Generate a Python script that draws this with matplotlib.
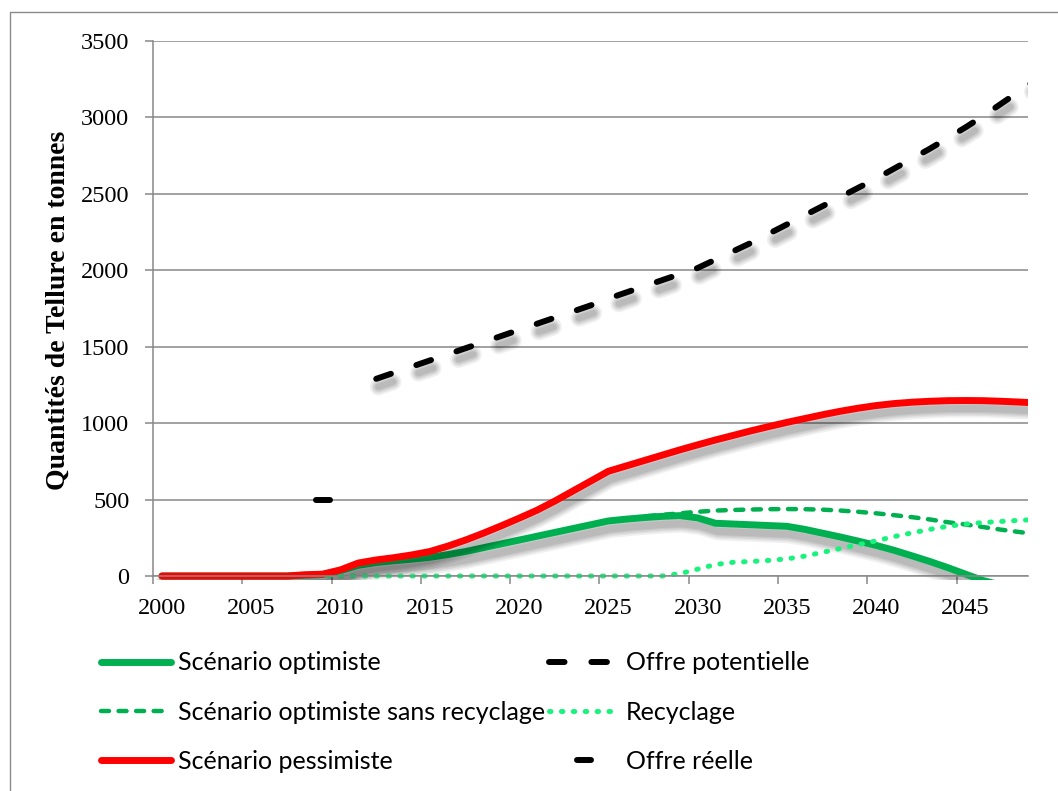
import matplotlib
matplotlib.use("Agg")
import matplotlib.pyplot as plt
import matplotlib.patheffects as pe
from matplotlib.lines import Line2D
from matplotlib.markers import MarkerStyle
from matplotlib.transforms import Bbox, TransformedBbox
from matplotlib.patches import Rectangle
import numpy as np

# ---- data (tonnes of tellurium per year) ----
years = list(range(2000, 2050))

optimiste = [0, 0, 0, 0, 0, 0, 0, 0,
             5, 10, 35, 70, 88, 100, 110, 122, 140, 160, 185, 210,
             235, 260, 285, 310, 335, 360, 372, 382, 390, 395,
             380, 345, 340, 335, 330, 325, 305, 280, 255, 228,
             200, 168, 132, 95, 55, 12, -30, -60, -90, -120]

optimiste_sans_recyclage = [0, 0, 0, 0, 0, 0, 0, 0,
                            5, 10, 35, 70, 88, 100, 110, 122, 140, 160, 185, 210,
                            235, 260, 285, 310, 335, 360, 372, 390, 400, 410,
                            420, 428, 432, 435, 437, 438, 437, 434, 428, 420,
                            410, 398, 385, 370, 352, 337, 320, 303, 288, 272]

pessimiste = [0, 0, 0, 0, 0, 0, 0, 0,
              8, 12, 40, 85, 105, 120, 138, 160, 195, 235, 280, 328,
              378, 430, 490, 555, 620, 685, 720, 755, 790, 825,
              858, 890, 920, 950, 978, 1005, 1030, 1055, 1078, 1098,
              1115, 1128, 1137, 1143, 1147, 1148, 1147, 1143, 1138, 1132]

offre_potentielle = [np.nan] * 12 + [
    1290, 1330, 1370, 1410, 1450, 1490, 1530, 1570, 1610, 1650,
    1690, 1730, 1770, 1815, 1855, 1895, 1935, 1975, 2015,
    2070, 2125, 2180, 2240, 2300, 2360, 2420, 2480, 2540, 2600,
    2665, 2730, 2795, 2865, 2935, 3010, 3090, 3170, 3250]

recyclage = [0] * 29 + [
    15, 45, 75, 90, 95, 102, 112, 130, 155, 180,
    205, 230, 258, 282, 305, 325, 340, 350, 357, 364, 370]

offre_reelle_years = [2009]
offre_reelle = [500]

tick_years = [2000, 2005, 2010, 2015, 2020, 2025, 2030, 2035, 2040, 2045]
y_ticks = [0, 500, 1000, 1500, 2000, 2500, 3000, 3500]

labels = ["Scénario optimiste", "Scénario optimiste sans recyclage",
          "Scénario pessimiste", "Offre potentielle", "Recyclage",
          "Offre réelle"]

# ---- styling ----
GREEN = "#00B050"
RED = "#FF0000"
SPRING = "#1AF27E"
GRID = "#888888"
SERIF = "Liberation Serif"

W, H = 1058, 791
fig = plt.figure(figsize=(W / 100, H / 100), dpi=100)
ax = fig.add_axes([153 / W, 1 - 576 / H, 875 / W, 535 / H])


def soft_shadow(lw):
    layers = [pe.SimpleLineShadow(offset=(1.5, -5.8), shadow_color="black",
                                  alpha=0.058, linewidth=lw + w)
              for w in (8.0, 5.5, 3.5, 1.5, 0.0)]
    return layers + [pe.Normal()]


clip = TransformedBbox(Bbox([[1999.5, -25], [2048.5, 3800]]), ax.transData)

lw_solid = 5.0
lw_dash = 3.2
lw_black = 4.3
lw_dot = 3.6

# series drawn in this order: optimiste, offre potentielle, sans recyclage,
# recyclage, pessimiste, offre réelle
l_opt, = ax.plot(years, optimiste, color=GREEN, lw=lw_solid,
                 solid_capstyle="round", solid_joinstyle="round", zorder=2.0)
l_opt.set_path_effects(soft_shadow(lw_solid))

l_pot, = ax.plot(years, offre_potentielle, color="black", lw=lw_black,
                 linestyle=(0, (2.6, 4.5)), dash_capstyle="round", zorder=2.1)
l_pot.set_path_effects(soft_shadow(lw_black))

l_sans, = ax.plot(years, optimiste_sans_recyclage, color=GREEN, lw=lw_dash,
                  linestyle=(0, (1.8, 2.15)), dash_capstyle="round", zorder=2.2)

l_rec, = ax.plot(years, recyclage, color=SPRING, lw=lw_dot,
                 linestyle=(0, (0.3, 2.08)), dash_capstyle="round", zorder=2.3)

l_pess, = ax.plot(years, pessimiste, color=RED, lw=lw_solid,
                  solid_capstyle="round", solid_joinstyle="round", zorder=2.4)
l_pess.set_path_effects(soft_shadow(lw_solid))

dash_marker = MarkerStyle("_", capstyle="round")
l_reel, = ax.plot(offre_reelle_years, offre_reelle, linestyle="none",
                  marker=dash_marker, markersize=9.4, markeredgewidth=4.3,
                  color="black", zorder=2.5)

for ln in (l_opt, l_sans, l_pess, l_pot, l_rec, l_reel):
    ln.set_clip_path(None)
    ln.set_clip_box(clip)
    ln.set_clip_on(True)

# ---- axes ----
ax.set_xlim(1999.5, 2048.5)
ax.set_ylim(0, 3500)
ax.set_axisbelow(True)

ax.set_xticks(np.arange(1999.5, 2048.0, 5.0))
ax.set_xticklabels([])
ax.set_xticks(tick_years, minor=True)
ax.set_xticklabels([str(y) for y in tick_years], minor=True)
ax.tick_params(axis="x", which="major", direction="out", length=5.5,
               width=1.1, color=GRID)
ax.tick_params(axis="x", which="minor", length=0, pad=16,
               labelsize=17.5, labelfontfamily=SERIF)

ax.set_yticks(y_ticks)
ax.set_yticklabels([str(v) for v in y_ticks])
ax.tick_params(axis="y", direction="out", length=5.5, width=1.1, color=GRID,
               pad=11.5, labelsize=17.5, labelfontfamily=SERIF)

ax.yaxis.grid(True, color=GRID, linewidth=1.1)
for side in ("top", "right"):
    ax.spines[side].set_visible(False)
for side in ("left", "bottom"):
    ax.spines[side].set_color(GRID)
    ax.spines[side].set_linewidth(1.1)

fig.text(58 / W, 1 - 310 / H, "Quantités de Tellure en tonnes",
         rotation=90, ha="center", va="center", fontfamily=SERIF,
         fontweight="bold", fontsize=20)

# outer chart frame
fig.patches.append(Rectangle((10 / W, -0.2), 1.3, 1 - 12 / H + 0.2,
                             transform=fig.transFigure, fill=False,
                             edgecolor="#8a8a8a", linewidth=1.0))

# ---- legend ----
def proxy(line):
    h = Line2D([], [])
    h.update_from(line)
    h.set_path_effects([])
    return h


handles = [proxy(l) for l in (l_opt, l_sans, l_pess, l_pot, l_rec, l_reel)]
leg_font = {"family": "Lato", "size": 18}
common = dict(frameon=False, borderpad=0, borderaxespad=0,
              handlelength=70 * 0.72 / 18, handletextpad=6.5 * 0.72 / 18,
              labelspacing=1.05, prop=leg_font, loc="center left")
leg1 = fig.legend(handles[:3], labels[:3],
                  bbox_to_anchor=(101 / W, 1 - 712 / H), **common)
leg2 = fig.legend(handles[3:], labels[3:],
                  bbox_to_anchor=(549 / W, 1 - 712 / H), **common)

fig.savefig("out.png", dpi=100)
